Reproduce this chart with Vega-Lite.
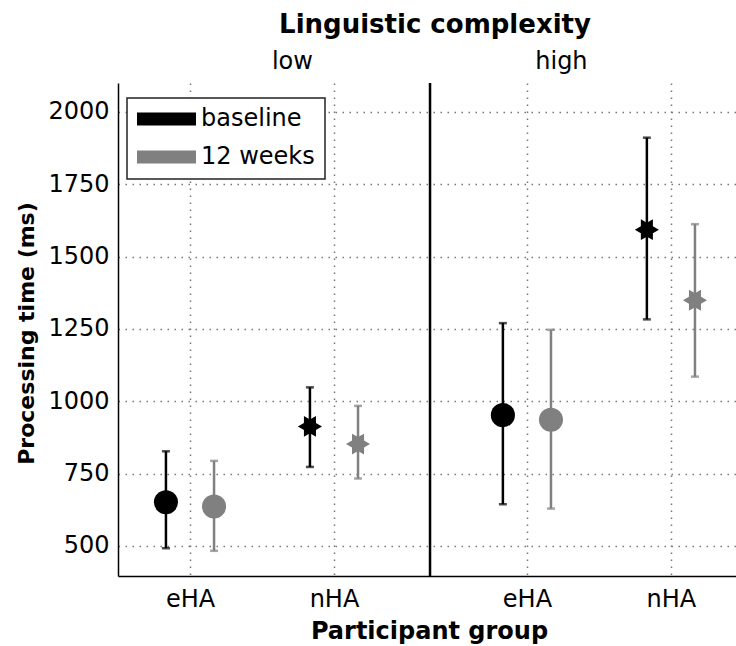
{
  "$schema": "https://vega.github.io/schema/vega-lite/v6.json",
  "autosize": "none",
  "padding": {"left": 118, "top": 83, "right": 0, "bottom": 70},
  "width": 618,
  "height": 493,
  "config": {
    "font": "DejaVu Sans",
    "view": {"stroke": null},
    "axis": {"labelColor": "#000", "titleColor": "#000", "labelFont": "DejaVu Sans", "titleFont": "DejaVu Sans"}
  },
  "data": {
    "values": [
      {"complexity": "low", "group": "eHA", "time": "baseline", "mean": 651, "lo": 492, "hi": 827},
      {"complexity": "low", "group": "eHA", "time": "12 weeks", "mean": 636, "lo": 483, "hi": 794},
      {"complexity": "low", "group": "nHA", "time": "baseline", "mean": 913, "lo": 773, "hi": 1048},
      {"complexity": "low", "group": "nHA", "time": "12 weeks", "mean": 852, "lo": 733, "hi": 984},
      {"complexity": "high", "group": "eHA", "time": "baseline", "mean": 952, "lo": 644, "hi": 1270},
      {"complexity": "high", "group": "eHA", "time": "12 weeks", "mean": 936, "lo": 629, "hi": 1247},
      {"complexity": "high", "group": "nHA", "time": "baseline", "mean": 1593, "lo": 1283, "hi": 1911},
      {"complexity": "high", "group": "nHA", "time": "12 weeks", "mean": 1349, "lo": 1085, "hi": 1612}
    ]
  },
  "layer": [
    {
      "transform": [
        {"calculate": "(datum.complexity == 'low' ? 0 : 2.34) + (datum.group == 'eHA' ? 1 : 2) + (datum.time == 'baseline' ? -0.167 : 0.167)", "as": "pos"}
      ],
      "mark": {"type": "errorbar", "thickness": 2.5, "ticks": {"size": 8, "thickness": 2.5}},
      "encoding": {
        "x": {
          "field": "pos", "type": "quantitative",
          "scale": {"domain": [0.5, 4.792], "nice": false, "zero": false},
          "axis": {
            "orient": "bottom", "values": [1, 2, 3.34, 4.34],
            "labelExpr": "(datum.value < 1.5 || (datum.value > 3 && datum.value < 4)) ? 'eHA' : 'nHA'",
            "labelFontSize": 24, "labelPadding": 11, "labelFlush": false, "ticks": false,
            "domainColor": "#000", "domainWidth": 1.5,
            "grid": true, "gridDash": [1.5, 5.5], "gridWidth": 1.5, "gridColor": "#777",
            "title": "Participant group", "titleFontSize": 24, "titleFontWeight": "bold",
            "titleX": 311, "titleY": 62.3, "titleBaseline": "alphabetic", "titleAlign": "center"
          }
        },
        "y": {
          "field": "lo", "type": "quantitative",
          "scale": {"domain": [396, 2100], "nice": false, "zero": false},
          "axis": {
            "values": [500, 750, 1000, 1250, 1500, 1750, 2000], "format": "d",
            "labelFontSize": 24, "labelPadding": 9, "ticks": false,
            "domainColor": "#000", "domainWidth": 1.5,
            "grid": true, "gridDash": [1.5, 5.5], "gridWidth": 1.5, "gridColor": "#777",
            "title": "Processing time (ms)", "titleFontSize": 22, "titleFontWeight": "bold",
            "titleX": -84.7, "titleY": 250, "titleBaseline": "alphabetic", "titleAlign": "center", "titleAngle": -90
          }
        },
        "y2": {"field": "hi"},
        "color": {"field": "time", "type": "nominal", "legend": null, "scale": {"domain": ["baseline", "12 weeks"], "range": ["#000000", "#808080"]}}
      }
    },
    {
      "data": {"values": [{"divider": 2.667}]},
      "mark": {"type": "rule", "color": "#000", "strokeWidth": 2.5},
      "encoding": {"x": {"field": "divider", "type": "quantitative", "axis": null}}
    },
    {
      "transform": [
        {"filter": "datum.group == 'nHA'"},
        {"calculate": "(datum.complexity == 'low' ? 0 : 2.34) + 2 + (datum.time == 'baseline' ? -0.167 : 0.167)", "as": "pos"}
      ],
      "mark": {"type": "point", "filled": true, "size": 580, "opacity": 1, "strokeWidth": 0,
               "shape": "M1,0L0.5,0.289L0.5,0.866L0,0.577L-0.5,0.866L-0.5,0.289L-1,0L-0.5,-0.289L-0.5,-0.866L0,-0.577L0.5,-0.866L0.5,-0.289Z"},
      "encoding": {
        "x": {"field": "pos", "type": "quantitative", "axis": null},
        "y": {"field": "mean", "type": "quantitative"},
        "color": {"field": "time", "type": "nominal", "legend": null}
      }
    },
    {
      "transform": [
        {"filter": "datum.group == 'eHA'"},
        {"calculate": "(datum.complexity == 'low' ? 0 : 2.34) + 1 + (datum.time == 'baseline' ? -0.167 : 0.167)", "as": "pos"}
      ],
      "mark": {"type": "point", "filled": true, "size": 580, "opacity": 1, "strokeWidth": 0, "shape": "circle"},
      "encoding": {
        "x": {
          "field": "pos", "type": "quantitative",
          "axis": {
            "orient": "top", "values": [1.708, 3.576],
            "labelExpr": "datum.value < 2.5 ? 'low' : 'high'",
            "labelFontSize": 24, "labelBaseline": "alphabetic", "labelPadding": 15, "labelFlush": false,
            "ticks": false, "domain": false, "grid": false,
            "title": "Linguistic complexity", "titleFontSize": 26, "titleFontWeight": "bold",
            "titleX": 316.5, "titleY": -50.7, "titleBaseline": "alphabetic", "titleAlign": "center"
          }
        },
        "y": {"field": "mean", "type": "quantitative"},
        "color": {
          "field": "time", "type": "nominal",
          "legend": {
            "orient": "none", "legendX": 9, "legendY": 15, "title": null,
            "symbolType": "M-1,-0.22L1,-0.22L1,0.22L-1,0.22Z", "symbolSize": 3481, "symbolStrokeWidth": 0, "symbolOpacity": 1,
            "labelFontSize": 24, "labelOffset": 5, "labelColor": "#000", "labelFont": "DejaVu Sans",
            "padding": 10, "strokeColor": "#222", "fillColor": "#fff",
            "clipHeight": 22, "rowPadding": 14,
            "encode": {
              "legend": {"update": {"strokeWidth": {"value": 1.5}}},
              "symbols": {"update": {
                "opacity": {"value": 1},
                "shape": {"value": "M-1,-0.22L1,-0.22L1,0.22L-1,0.22Z"},
                "size": {"value": 3481},
                "strokeWidth": {"value": 0}
              }}
            }
          }
        }
      }
    }
  ],
  "resolve": {"axis": {"x": "independent"}, "legend": {"color": "independent"}}
}
